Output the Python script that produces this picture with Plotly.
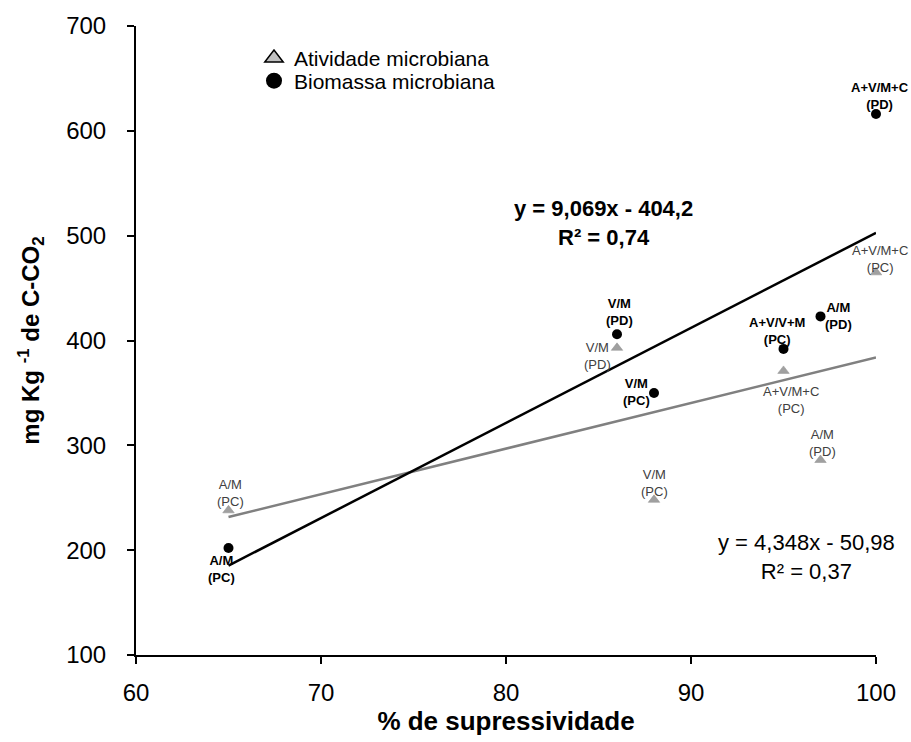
import numpy as np
import plotly.graph_objects as go

# ---- data ----
supress = [65, 86, 88, 95, 97, 100]
biomassa = [202, 406, 350, 392, 423, 616]
biomassa_labels = ["A/M<br>(PC)", "V/M<br>(PD)", "V/M<br>(PC)", "A+V/V+M<br>(PC)", "A/M<br>(PD)", "A+V/M+C<br>(PD)"]
atividade = [238, 393, 248, 371, 286, 465]
atividade_labels = ["A/M<br>(PC)", "V/M<br>(PD)", "V/M<br>(PC)", "A+V/M+C<br>(PC)", "A/M<br>(PD)", "A+V/M+C<br>(PC)"]
fit_bio = (9.069, -404.2)
fit_ativ = (4.348, -50.98)
x_ticks = [60, 70, 80, 90, 100]
y_ticks = [100, 200, 300, 400, 500, 600, 700]

FONT = "Liberation Sans, Arial, sans-serif"
L, R, T, B = 136, 35, 19, 86
PW, PH = 911 - L - R, 742 - T - B


def px_x(p):
    return (p - L) / PW


def px_y(p):
    return (742 - B - p) / PH


fig = go.Figure()

xs = np.array([min(supress), max(supress)], dtype=float)
fig.add_trace(go.Scatter(x=xs, y=fit_ativ[0] * xs + fit_ativ[1], mode="lines",
                         line=dict(color="#808080", width=2.5), showlegend=False, hoverinfo="skip",
                         cliponaxis=False))
fig.add_trace(go.Scatter(x=xs, y=fit_bio[0] * xs + fit_bio[1], mode="lines",
                         line=dict(color="black", width=2.5), showlegend=False, hoverinfo="skip",
                         cliponaxis=False))

fig.add_trace(go.Scatter(x=supress, y=atividade, mode="markers", showlegend=False, cliponaxis=False,
                         marker=dict(symbol="triangle-up", size=10, color="#a0a0a0",
                                     line=dict(color="#909090", width=0.5))))
fig.add_trace(go.Scatter(x=supress, y=biomassa, mode="markers", showlegend=False, cliponaxis=False,
                         marker=dict(symbol="circle", size=10, color="black")))

# legend entries (legend-only styling, no data)
fig.add_trace(go.Scatter(x=[None], y=[None], mode="markers", name="Atividade microbiana", legend="legend",
                         marker=dict(symbol="triangle-up", size=16, color="#c0c0c0",
                                     line=dict(color="black", width=1.5))))
fig.add_trace(go.Scatter(x=[None], y=[None], mode="markers", name="Biomassa microbiana", legend="legend2",
                         marker=dict(symbol="circle", size=16, color="black")))

# point labels: (xshift, yshift)
bio_off = [(-7.5, -20.5), (2.7, 22), (-17.5, 1.3), (-6.3, 18.2), (17.7, 0), (3.6, 17.8)]
ativ_off = [(2.4, 17.5), (-20, -7.8), (0.5, 16.7), (7, -29.2), (1.7, 17.1), (3.6, 13)]

for x, y, t, (dx, dy) in zip(supress, biomassa, biomassa_labels, bio_off):
    fig.add_annotation(x=x, y=y, text="<b>" + t + "</b>", showarrow=False, xshift=dx, yshift=dy,
                       xanchor="center", yanchor="middle",
                       font=dict(family=FONT, size=13, color="black"))
for x, y, t, (dx, dy) in zip(supress, atividade, atividade_labels, ativ_off):
    fig.add_annotation(x=x, y=y, text=t, showarrow=False, xshift=dx, yshift=dy,
                       xanchor="center", yanchor="middle",
                       font=dict(family=FONT, size=13, color="#404040"))

fig.add_annotation(xref="paper", yref="paper", x=px_x(603), y=px_y(219),
                   xanchor="center", yanchor="middle",
                   text="<b>y = 9,069x - 404,2<br>R² = 0,74</b>", showarrow=False,
                   font=dict(family=FONT, size=22, color="black"), align="center")
fig.add_annotation(xref="paper", yref="paper", x=px_x(806), y=px_y(557),
                   xanchor="center", yanchor="middle",
                   text="y = 4,348x - 50,98<br>R² = 0,37", showarrow=False,
                   font=dict(family=FONT, size=22, color="black"), align="center")

leg_common = dict(xanchor="left", yanchor="top", font=dict(family=FONT, size=21, color="black"),
                  itemsizing="trace", bgcolor="rgba(0,0,0,0)")

fig.update_layout(
    width=911, height=742,
    margin=dict(l=L, r=R, t=T, b=B),
    paper_bgcolor="white", plot_bgcolor="white",
    font=dict(family=FONT, color="black"),
    legend=dict(x=px_x(254), y=px_y(31), **leg_common),
    legend2=dict(x=px_x(254), y=px_y(54), **leg_common),
    xaxis=dict(range=[60, 100], tickvals=x_ticks, showgrid=False, zeroline=False,
               showline=True, linecolor="black", linewidth=2, ticks="outside", ticklen=7,
               tickwidth=2, tickcolor="black", tickfont=dict(family=FONT, size=24),
               ticklabelstandoff=8,
               title=dict(text="<b>% de supressividade</b>", font=dict(family=FONT, size=26), standoff=6)),
    yaxis=dict(range=[100, 700], tickvals=y_ticks, showgrid=False, zeroline=False,
               showline=True, linecolor="black", linewidth=2, ticks="outside", ticklen=7,
               tickwidth=2, tickcolor="black", tickfont=dict(family=FONT, size=24),
               ticklabelstandoff=16,
               title=dict(text="<b>mg Kg <sup>-1</sup> de C-CO<sub>2</sub></b>", font=dict(family=FONT, size=24), standoff=20)),
)

fig.write_html("out.html", config={"displayModeBar": False},
               post_script="document.body.style.margin='0px';")
